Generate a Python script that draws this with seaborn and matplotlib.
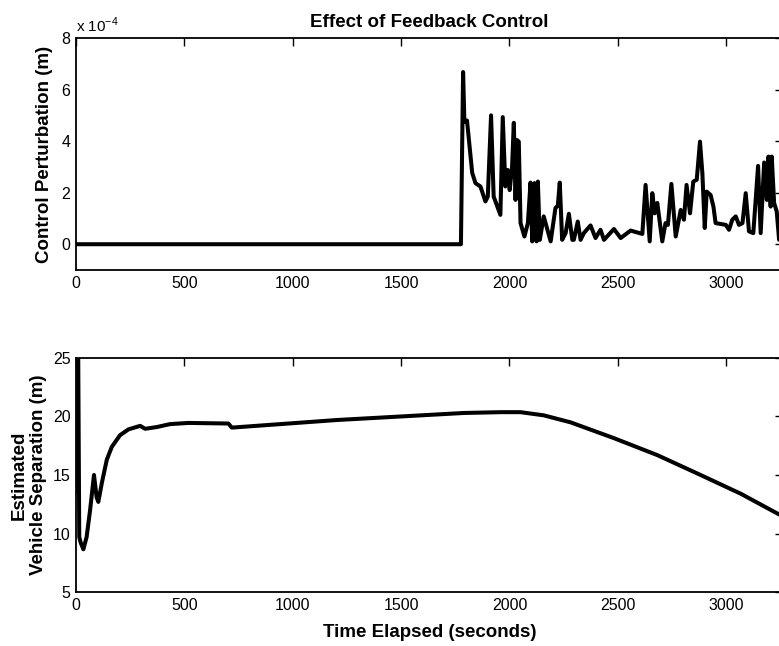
import numpy as np
import pandas as pd
import seaborn as sns
import matplotlib
matplotlib.use("Agg")
import matplotlib.pyplot as plt

# ---- data (control perturbation in units of 1e-4 m) ----
ctrl_t = [0, 1776, 1786, 1792, 1804, 1828, 1843, 1866, 1889, 1900, 1915, 1927, 1958,
          1969, 1981, 1992, 2001, 2012, 2020, 2028, 2035, 2043, 2051, 2069, 2085,
          2097, 2105, 2115, 2125, 2131, 2140, 2158, 2190, 2212, 2223, 2232, 2243,
          2259, 2274, 2290, 2297, 2315, 2328, 2343, 2374, 2397, 2420, 2436, 2482,
          2513, 2559, 2613, 2628, 2647, 2659, 2670, 2682, 2705, 2720, 2731, 2747,
          2767, 2790, 2805, 2817, 2833, 2848, 2864, 2879, 2890, 2901, 2910, 2928,
          2941, 2951, 2998, 3013, 3028, 3044, 3059, 3075, 3090, 3105, 3125, 3147,
          3159, 3175, 3187, 3195, 3205, 3210, 3221, 3233, 3244, 3262]
ctrl_v = [0.0, 0.0, 6.68, 4.75, 4.8, 2.77, 2.37, 2.24, 1.66, 1.85, 5.0, 1.85, 1.14,
          4.93, 2.24, 2.88, 2.1, 3.0, 4.71, 1.72, 4.04, 3.98, 0.82, 0.3, 0.82,
          2.39, 0.11, 2.37, 0.11, 2.43, 0.17, 1.08, 0.11, 1.4, 1.5, 2.39, 0.17,
          0.43, 1.18, 0.17, 0.17, 0.88, 0.17, 0.43, 0.73, 0.24, 0.56, 0.17, 0.59,
          0.24, 0.53, 0.4, 2.3, 0.11, 1.98, 1.2, 1.6, 0.11, 0.82, 0.75, 2.34,
          0.3, 1.33, 0.95, 2.3, 1.2, 2.43, 2.5, 3.98, 2.75, 0.63, 2.04, 1.91,
          1.46, 0.82, 0.75, 0.56, 0.95, 1.08, 0.75, 0.82, 1.98, 0.5, 0.43, 3.04,
          0.43, 3.17, 1.72, 3.4, 1.46, 3.4, 1.6, 1.27, 0.17, 0.5]

# ---- data (estimated vehicle separation, m) ----
sep_t = [0, 5, 10, 15, 22, 34, 49, 65, 83, 95, 103, 119, 142, 165, 203, 242, 296,
         319, 373, 434, 519, 703, 719, 1204, 1788, 1958, 2051, 2158, 2282, 2482,
         2682, 2882, 3067, 3247, 3262]
sep_v = [13.6, 26.0, 26.0, 9.7, 9.2, 8.65, 9.7, 12.0, 15.0, 13.1, 12.7, 14.3, 16.3,
         17.4, 18.4, 18.9, 19.2, 18.95, 19.1, 19.35, 19.45, 19.4, 19.05, 19.7,
         20.3, 20.37, 20.37, 20.1, 19.5, 18.15, 16.7, 15.0, 13.4, 11.6, 11.45]

x_ticks = [0, 500, 1000, 1500, 2000, 2500, 3000]
top_yticks = [0, 2, 4, 6, 8]
bot_yticks = [5, 10, 15, 20, 25]

title = "Effect of Feedback Control"
top_ylabel = "Control Perturbation (m)"
bot_ylabel = "Estimated\nVehicle Separation (m)"
xlabel = "Time Elapsed (seconds)"

sns.set_style("white")
plt.rcParams["font.family"] = ["Liberation Sans", "DejaVu Sans"]
plt.rcParams["mathtext.fontset"] = "custom"
plt.rcParams["mathtext.rm"] = "Liberation Sans"
plt.rcParams["text.color"] = "black"
plt.rcParams["axes.labelcolor"] = "black"
plt.rcParams["xtick.color"] = "black"
plt.rcParams["ytick.color"] = "black"

W, H = 779, 646
fig = plt.figure(figsize=(W / 100, H / 100), dpi=100)

def px_axes(left, top, right, bottom):
    return fig.add_axes([left / W, 1 - bottom / H, (right - left) / W, (bottom - top) / H])

ax1 = px_axes(76, 38, 783, 270)
ax2 = px_axes(76, 358, 783, 592)

df1 = pd.DataFrame({"t": ctrl_t, "v": ctrl_v})
df2 = pd.DataFrame({"t": sep_t, "v": sep_v})

sns.lineplot(data=df1, x="t", y="v", ax=ax1, color="black", linewidth=2.9, sort=False)
sns.lineplot(data=df2, x="t", y="v", ax=ax2, color="black", linewidth=2.9, sort=False)

ax1.set_xlim(0, 3262)
ax1.set_ylim(-1, 8)
ax2.set_xlim(0, 3262)
ax2.set_ylim(5, 25)

for ax, yt in ((ax1, top_yticks), (ax2, bot_yticks)):
    ax.set_xticks(x_ticks)
    ax.set_xticklabels([str(v) for v in x_ticks])
    ax.set_yticks(yt)
    ax.set_yticklabels([str(v) for v in yt])
    ax.tick_params(direction="in", length=5.5, width=1.0, top=True, right=True,
                   labelsize=11.5, pad=4, colors="black")
    for s in ax.spines.values():
        s.set_linewidth(1.3)
        s.set_color("black")
    ax.set_xlabel("")
    ax.set_ylabel("")

ax1.set_title(title, fontsize=13.5, fontweight="bold", pad=8, color="black")
ax1.set_ylabel(top_ylabel, fontsize=13.5, fontweight="bold", labelpad=6)
ax2.set_ylabel(bot_ylabel, fontsize=13.5, fontweight="bold", labelpad=4, linespacing=1.15)
ax2.set_xlabel(xlabel, fontsize=13.5, fontweight="bold", labelpad=8)

fig.text(76 / W, 1 - 25 / H, r"x 10$^{-4}$", fontsize=11, ha="left", va="center")

fig.savefig("out.png", dpi=100)
